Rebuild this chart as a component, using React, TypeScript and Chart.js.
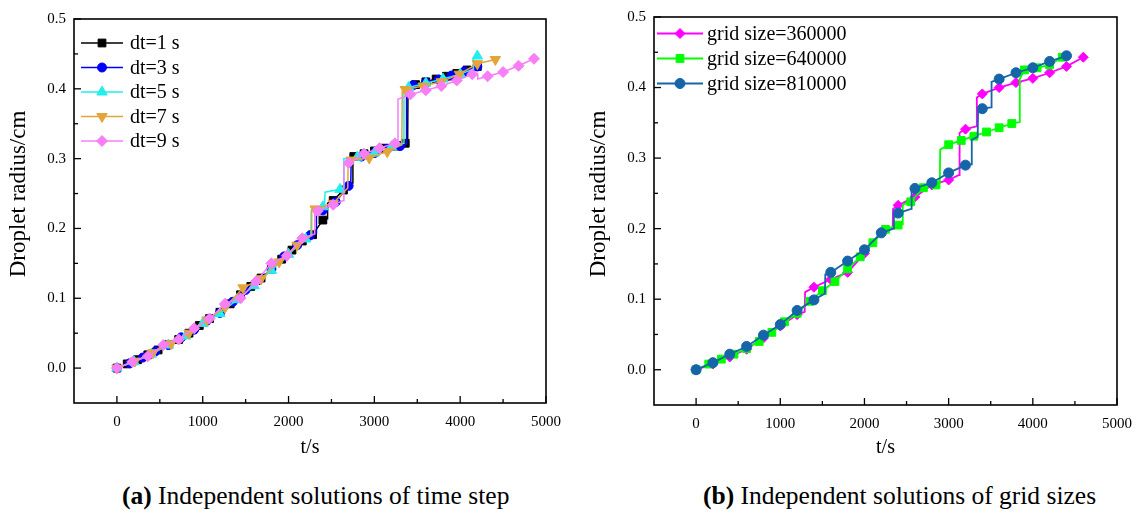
import React, { useEffect, useRef } from "react";
import { Chart, registerables } from "chart.js";
Chart.register(...registerables);

const FONT = "'Liberation Serif', 'Times New Roman', serif";

// ---------- shared axis ticks ----------
const xMajorTicks = [0, 1000, 2000, 3000, 4000, 5000];
const xMinorTicks = [500, 1500, 2500, 3500, 4500];
const yMajorTicks = [0, 0.1, 0.2, 0.3, 0.4, 0.5];
const yMinorTicks = [0.05, 0.15, 0.25, 0.35, 0.45];

// ---------- (a) time step ----------
const dt1T = [0, 120, 240, 360, 480, 600, 720, 840, 960, 1080, 1200, 1320, 1440, 1560, 1680, 1800, 1920, 2040, 2160, 2280, 2400, 2520, 2640, 2760, 2880, 3000, 3120, 3240, 3360, 3480, 3600, 3720, 3840, 3960, 4080, 4200];
const dt1R = [0, 0.006, 0.012, 0.019, 0.026, 0.034, 0.041, 0.05, 0.061, 0.071, 0.08, 0.092, 0.105, 0.117, 0.129, 0.142, 0.156, 0.169, 0.182, 0.191, 0.212, 0.24, 0.255, 0.303, 0.307, 0.311, 0.315, 0.318, 0.322, 0.406, 0.41, 0.414, 0.418, 0.422, 0.427, 0.432];
const dt1StepT = [2450, 2455, 2745, 2750, 3388, 3392];
const dt1StepR = [0.214, 0.236, 0.265, 0.302, 0.323, 0.403];

const dt3T = [0, 150, 300, 450, 600, 750, 900, 1050, 1200, 1350, 1500, 1650, 1800, 1950, 2100, 2250, 2400, 2550, 2700, 2850, 3000, 3150, 3300, 3450, 3600, 3750, 3900, 4050, 4200];
const dt3R = [0, 0.007, 0.015, 0.024, 0.033, 0.044, 0.055, 0.068, 0.079, 0.095, 0.112, 0.126, 0.142, 0.16, 0.176, 0.19, 0.226, 0.238, 0.261, 0.303, 0.308, 0.314, 0.318, 0.405, 0.409, 0.413, 0.419, 0.425, 0.432];
const dt3StepT = [2320, 2325, 2725, 2730, 3370, 3375];
const dt3StepR = [0.193, 0.222, 0.263, 0.3, 0.321, 0.403];

const dt5T = [0, 200, 400, 600, 800, 1000, 1200, 1400, 1600, 1800, 2000, 2200, 2400, 2600, 2800, 3000, 3200, 3400, 3600, 3800, 4000, 4200];
const dt5R = [0, 0.009, 0.02, 0.033, 0.046, 0.064, 0.078, 0.098, 0.118, 0.14, 0.163, 0.185, 0.231, 0.256, 0.302, 0.308, 0.317, 0.402, 0.408, 0.414, 0.421, 0.447];
const dt5StepT = [2260, 2265, 2420, 2425, 2640, 2645, 3340, 3345, 4150, 4155];
const dt5StepR = [0.189, 0.226, 0.233, 0.252, 0.258, 0.3, 0.322, 0.4, 0.428, 0.444];

const dt7T = [0, 210, 420, 630, 840, 1050, 1260, 1470, 1680, 1890, 2100, 2310, 2520, 2730, 2940, 3150, 3360, 3570, 3780, 3990, 4200, 4410];
const dt7R = [0, 0.01, 0.022, 0.035, 0.05, 0.069, 0.087, 0.115, 0.128, 0.152, 0.176, 0.228, 0.236, 0.298, 0.301, 0.31, 0.399, 0.404, 0.41, 0.421, 0.436, 0.442];
const dt7StepT = [2265, 2270, 2690, 2695, 3320, 3325];
const dt7StepR = [0.19, 0.226, 0.258, 0.296, 0.32, 0.397];

const dt9T = [0, 180, 360, 540, 720, 900, 1080, 1260, 1440, 1620, 1800, 1980, 2160, 2340, 2520, 2700, 2880, 3060, 3240, 3420, 3600, 3780, 3960, 4140, 4320, 4500, 4680, 4860];
const dt9R = [0, 0.009, 0.017, 0.033, 0.041, 0.057, 0.071, 0.092, 0.1, 0.124, 0.15, 0.161, 0.186, 0.225, 0.234, 0.294, 0.307, 0.315, 0.322, 0.392, 0.398, 0.404, 0.412, 0.421, 0.418, 0.424, 0.433, 0.443];
const dt9StepT = [2300, 2305, 2640, 2645, 3270, 3275, 4200, 4205];
const dt9StepR = [0.192, 0.222, 0.24, 0.292, 0.323, 0.385, 0.422, 0.414];

// ---------- (b) grid sizes ----------
const g360T = [0, 200, 400, 600, 800, 1000, 1200, 1400, 1600, 1800, 2000, 2200, 2400, 2600, 2800, 3000, 3200, 3400, 3600, 3800, 4000, 4200, 4400, 4600];
const g360R = [0, 0.008, 0.018, 0.029, 0.045, 0.062, 0.078, 0.117, 0.128, 0.138, 0.165, 0.195, 0.233, 0.245, 0.262, 0.269, 0.341, 0.391, 0.4, 0.407, 0.413, 0.421, 0.43, 0.443];
const g360StepT = [1290, 1295, 2335, 2340, 3125, 3130, 3330, 3335];
const g360StepR = [0.082, 0.11, 0.2, 0.228, 0.276, 0.336, 0.345, 0.386];

const g640T = [0, 150, 300, 450, 600, 750, 900, 1050, 1200, 1350, 1500, 1650, 1800, 1950, 2100, 2250, 2400, 2550, 2700, 2850, 3000, 3150, 3300, 3450, 3600, 3750, 3900, 4050, 4200, 4350];
const g640R = [0, 0.008, 0.015, 0.022, 0.03, 0.04, 0.053, 0.068, 0.08, 0.097, 0.112, 0.125, 0.143, 0.16, 0.18, 0.199, 0.205, 0.238, 0.258, 0.262, 0.319, 0.325, 0.331, 0.337, 0.343, 0.349, 0.425, 0.428, 0.432, 0.443];
const g640StepT = [2450, 2455, 2895, 2900, 3840, 3845];
const g640StepR = [0.206, 0.234, 0.265, 0.312, 0.351, 0.412];

const g810T = [0, 200, 400, 600, 800, 1000, 1200, 1400, 1600, 1800, 2000, 2200, 2400, 2600, 2800, 3000, 3200, 3400, 3600, 3800, 4000, 4200, 4400];
const g810R = [0, 0.01, 0.022, 0.033, 0.049, 0.064, 0.084, 0.099, 0.138, 0.154, 0.17, 0.194, 0.222, 0.257, 0.265, 0.279, 0.29, 0.37, 0.412, 0.421, 0.428, 0.437, 0.445];
const g810StepT = [1530, 1535, 2345, 2350, 2555, 2560, 3270, 3275, 3345, 3350, 3505, 3510];
const g810StepR = [0.108, 0.135, 0.2, 0.22, 0.228, 0.255, 0.291, 0.326, 0.33, 0.368, 0.372, 0.408];

type P = { x: number; y: number; m: boolean };

function merge(mt: number[], mr: number[], st: number[], sr: number[]): P[] {
  const pts: P[] = [];
  mt.forEach((t, i) => pts.push({ x: t, y: mr[i], m: true }));
  st.forEach((t, i) => pts.push({ x: t, y: sr[i], m: false }));
  pts.sort((a, b) => a.x - b.x);
  return pts;
}

type SeriesDef = {
  label: string;
  color: string;
  style: string;
  rotation: number;
  radius: number;
  width: number;
  data: P[];
};

function drawMarker(ctx: CanvasRenderingContext2D, style: string, x: number, y: number, r: number, rot: number) {
  ctx.beginPath();
  if (style === "circle") {
    ctx.arc(x, y, r, 0, Math.PI * 2);
  } else if (style === "rect") {
    const s = Math.SQRT1_2 * r;
    ctx.rect(x - s, y - s, 2 * s, 2 * s);
  } else if (style === "rectRot") {
    ctx.moveTo(x - r, y);
    ctx.lineTo(x, y - r);
    ctx.lineTo(x + r, y);
    ctx.lineTo(x, y + r);
    ctx.closePath();
  } else if (style === "triangle") {
    let a = (rot * Math.PI) / 180;
    ctx.moveTo(x + Math.sin(a) * r, y - Math.cos(a) * r);
    a += (2 * Math.PI) / 3;
    ctx.lineTo(x + Math.sin(a) * r, y - Math.cos(a) * r);
    a += (2 * Math.PI) / 3;
    ctx.lineTo(x + Math.sin(a) * r, y - Math.cos(a) * r);
    ctx.closePath();
  }
  ctx.fill();
  ctx.stroke();
}

const framePlugin = {
  id: "frame",
  afterDraw(chart: any, _args: any, opts: any) {
    const { ctx, chartArea: a, scales } = chart;
    const xs = scales.x;
    const ys = scales.y;
    ctx.save();
    ctx.strokeStyle = "#000";
    ctx.lineWidth = 1.6;
    ctx.strokeRect(a.left, a.top, a.right - a.left, a.bottom - a.top);
    ctx.lineWidth = 1.3;
    const tick = (x1: number, y1: number, x2: number, y2: number) => {
      ctx.beginPath();
      ctx.moveTo(x1, y1);
      ctx.lineTo(x2, y2);
      ctx.stroke();
    };
    xMajorTicks.forEach((v) => { const p = xs.getPixelForValue(v); tick(p, a.bottom, p, a.bottom - 7); });
    xMinorTicks.forEach((v) => { const p = xs.getPixelForValue(v); tick(p, a.bottom, p, a.bottom - 4); });
    yMajorTicks.forEach((v) => { const p = ys.getPixelForValue(v); tick(a.left, p, a.left + 7, p); });
    yMinorTicks.forEach((v) => { const p = ys.getPixelForValue(v); tick(a.left, p, a.left + 4, p); });

    // y-axis title
    const T = opts.yTitle;
    ctx.save();
    ctx.translate(T.x, T.y);
    ctx.rotate(-Math.PI / 2);
    ctx.font = `${T.size}px ${FONT}`;
    ctx.fillStyle = "#000";
    ctx.textAlign = "center";
    ctx.textBaseline = "middle";
    ctx.fillText(T.text, 0, 0);
    ctx.restore();

    // legend
    const L = opts.legend;
    const series: SeriesDef[] = opts.series;
    ctx.font = `${L.size}px ${FONT}`;
    ctx.textBaseline = "middle";
    ctx.textAlign = "left";
    series.forEach((s, i) => {
      const y = L.y0 + i * L.dy;
      ctx.strokeStyle = s.color;
      ctx.fillStyle = s.color;
      ctx.lineWidth = s.width;
      tick(L.x1, y, L.x2, y);
      ctx.lineWidth = 1;
      drawMarker(ctx, s.style, (L.x1 + L.x2) / 2, y, s.radius, s.rotation);
      ctx.fillStyle = "#000";
      ctx.fillText(s.label, L.tx, y + 1);
    });
    ctx.restore();
  },
};

type Cfg = {
  series: SeriesDef[];
  top: number;
  right: number;
  yWidth: number;
  xHeight: number;
  legend: any;
  yTitle: any;
};

function ChartPanel({ cfg, width, height }: { cfg: Cfg; width: number; height: number }) {
  const ref = useRef<HTMLCanvasElement | null>(null);
  useEffect(() => {
    if (!ref.current) return;
    const chart = new Chart(ref.current, {
      type: "line",
      data: {
        datasets: cfg.series.map((s, i) => ({
          label: s.label,
          data: s.data as any,
          borderColor: s.color,
          backgroundColor: s.color,
          borderWidth: s.width,
          pointStyle: s.style as any,
          pointRotation: s.rotation,
          pointBackgroundColor: s.color,
          pointBorderColor: s.color,
          pointBorderWidth: 1,
          pointRadius: (c: any) => (c.raw && c.raw.m ? s.radius : 0),
          tension: 0,
          fill: false,
          order: cfg.series.length - i,
        })),
      },
      options: {
        animation: false,
        responsive: false,
        parsing: false as any,
        events: [],
        layout: { padding: { left: 0, right: cfg.right, top: cfg.top, bottom: 0 } },
        plugins: {
          legend: { display: false },
          tooltip: { enabled: false },
          frame: { series: cfg.series, legend: cfg.legend, yTitle: cfg.yTitle },
        } as any,
        scales: {
          x: {
            type: "linear",
            min: -500,
            max: 5000,
            afterBuildTicks: (sc: any) => { sc.ticks = xMajorTicks.map((v) => ({ value: v })); },
            afterFit: (sc: any) => { sc.height = cfg.xHeight; },
            grid: { display: false, drawTicks: false },
            border: { display: false },
            ticks: {
              color: "#000",
              font: { family: FONT, size: 15 },
              padding: 10,
              maxRotation: 0,
              autoSkip: false,
              callback: (v: any) => String(v),
            },
            title: { display: true, text: "t/s", color: "#000", font: { family: FONT, size: 20 }, padding: 0 },
          },
          y: {
            type: "linear",
            min: -0.05,
            max: 0.5,
            afterBuildTicks: (sc: any) => { sc.ticks = yMajorTicks.map((v) => ({ value: v })); },
            afterFit: (sc: any) => { sc.width = cfg.yWidth; },
            grid: { display: false, drawTicks: false },
            border: { display: false },
            ticks: {
              color: "#000",
              font: { family: FONT, size: 15 },
              padding: 8,
              autoSkip: false,
              callback: (v: any) => Number(v).toFixed(1),
            },
            title: { display: false },
          },
        },
      },
      plugins: [framePlugin],
    });
    return () => chart.destroy();
  }, [cfg]);
  return <canvas ref={ref} width={width} height={height} style={{ display: "block", width, height }} />;
}

const leftCfg: Cfg = {
  top: 19,
  right: 25,
  yWidth: 74,
  xHeight: 57,
  legend: { x1: 81, x2: 123, tx: 130, y0: 43, dy: 24.5, size: 20 },
  yTitle: { text: "Droplet radius/cm", x: 19, y: 194, size: 23 },
  series: [
    { label: "dt=1 s", color: "#000000", style: "rect", rotation: 0, radius: 5.5, width: 1.5, data: merge(dt1T, dt1R, dt1StepT, dt1StepR) },
    { label: "dt=3 s", color: "#0000FF", style: "circle", rotation: 0, radius: 4.5, width: 1.5, data: merge(dt3T, dt3R, dt3StepT, dt3StepR) },
    { label: "dt=5 s", color: "#22EEEE", style: "triangle", rotation: 0, radius: 6, width: 1.5, data: merge(dt5T, dt5R, dt5StepT, dt5StepR) },
    { label: "dt=7 s", color: "#E3A53A", style: "triangle", rotation: 180, radius: 6, width: 1.5, data: merge(dt7T, dt7R, dt7StepT, dt7StepR) },
    { label: "dt=9 s", color: "#F77FF5", style: "rectRot", rotation: 0, radius: 5.5, width: 1.5, data: merge(dt9T, dt9R, dt9StepT, dt9StepR) },
  ],
};

const rightCfg: Cfg = {
  top: 17,
  right: 16,
  yWidth: 83,
  xHeight: 55,
  legend: { x1: 86, x2: 132, tx: 136, y0: 33.5, dy: 25, size: 20 },
  yTitle: { text: "Droplet radius/cm", x: 28, y: 194, size: 23 },
  series: [
    { label: "grid size=360000", color: "#FF00FF", style: "rectRot", rotation: 0, radius: 5, width: 1.8, data: merge(g360T, g360R, g360StepT, g360StepR) },
    { label: "grid size=640000", color: "#00FF00", style: "rect", rotation: 0, radius: 5.5, width: 1.8, data: merge(g640T, g640R, g640StepT, g640StepR) },
    { label: "grid size=810000", color: "#1565A8", style: "circle", rotation: 0, radius: 5, width: 1.8, data: merge(g810T, g810R, g810StepT, g810StepR) },
  ],
};

const captionStyle: React.CSSProperties = {
  position: "absolute",
  top: 481,
  fontFamily: FONT,
  fontSize: 25.5,
  lineHeight: "30px",
  whiteSpace: "nowrap",
  color: "#000",
};

export default function App() {
  return (
    <div style={{ position: "absolute", left: 0, top: 0, width: 1142, height: 514, background: "#fff" }}>
      <div style={{ position: "absolute", left: 0, top: 0 }}>
        <ChartPanel cfg={leftCfg} width={571} height={460} />
      </div>
      <div style={{ position: "absolute", left: 571, top: 0 }}>
        <ChartPanel cfg={rightCfg} width={571} height={460} />
      </div>
      <div style={{ ...captionStyle, left: 122 }}>
        <b>(a)</b> Independent solutions of time step
      </div>
      <div style={{ ...captionStyle, left: 703 }}>
        <b>(b)</b> Independent solutions of grid sizes
      </div>
    </div>
  );
}
